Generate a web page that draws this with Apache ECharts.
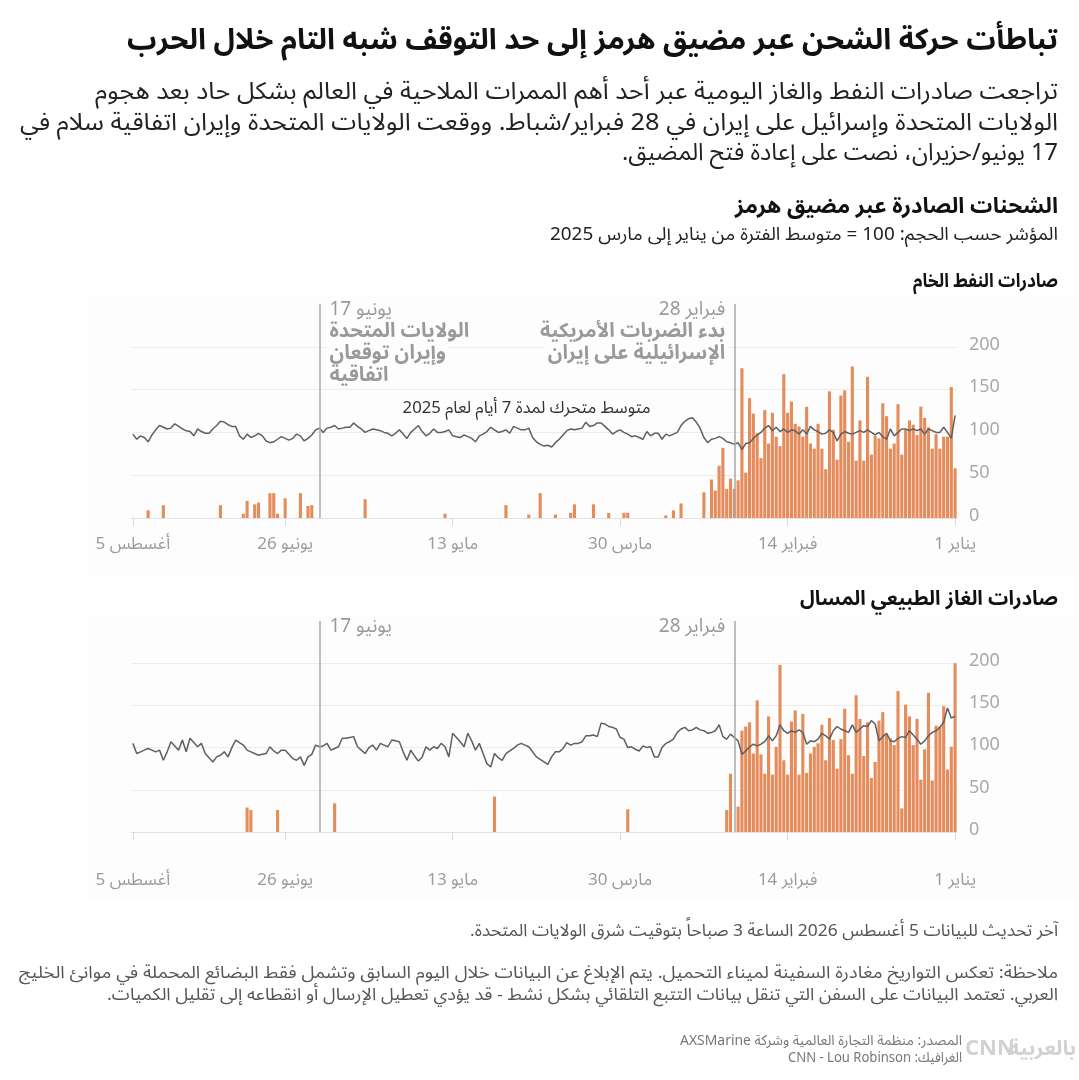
<!DOCTYPE html>
<html><head><meta charset="utf-8">
<script src="https://cdn.jsdelivr.net/npm/echarts@6/dist/echarts.min.js"></script>
<style>html,body{margin:0;padding:0;background:#fff}#c{width:1079px;height:1080px;direction:rtl}</style>
</head><body><div id="c"></div><script>
const FONT = '"Noto Sans Arabic", "Noto Sans", "DejaVu Sans", sans-serif';
const LRE = '\u202A', PDF = '\u202C';
const ltr = s => LRE + s + PDF;

// daily values, index 0 = 1 Jan 2026 ... index 216 = 5 Aug 2026
const oilBars = [
58,153,95,95,81,98,81,106,117,130,
97,109,114,103,74,133,87,81,119,134,
93,96,74,165,67,114,67,177,89,149,
143,68,103,148,57,81,110,81,87,130,
95,107,110,136,123,168,84,95,123,87,
126,70,99,122,140,53,175,44,34,46,
34,82,61,32,45,0,30,0,0,0,
0,0,17,0,9,0,3,0,0,0,
0,0,0,0,0,0,6,6,0,0,
0,6,0,0,0,16,0,0,0,0,
16,6,0,0,0,4,0,0,0,29,
0,0,4,0,0,0,0,0,15,0,
0,0,0,0,0,0,0,0,0,0,
0,0,0,0,5,0,0,0,0,0,
0,0,0,0,0,0,0,0,0,0,
0,0,0,0,0,22,0,0,0,0,
0,0,0,0,0,0,0,0,0,15,
14,0,29,0,0,0,23,0,5,29,
29,0,0,18,16,0,20,5,0,0,
0,0,0,15,0,0,0,0,0,0,
0,0,0,0,0,0,0,0,15,0,
0,0,9,0,0,0,0];
const oilAvg2025 = [
120,93,100,106,100,100,102,104,98,104,
102,104,102,104,104,100,96,104,92,95,
100,97,100,103,100,102,100,98,99,101,
98,90,100,103,99,98,101,103,107,98,
103,98,102,103,100,104,101,106,102,108,
105,100,97,93,88,87,80,88,86,88,
89,93,95,93,92,88,94,105,112,117,
116,113,108,100,98,96,98,92,99,99,
96,101,92,94,96,95,98,100,103,101,
98,103,107,111,111,108,107,112,105,104,
103,104,102,97,92,88,83,85,84,86,
89,94,105,103,103,105,107,99,103,101,
100,103,106,101,98,96,89,93,95,97,
94,95,96,103,101,100,100,104,99,96,
101,108,104,100,93,98,103,99,96,99,
100,102,103,104,102,100,104,107,111,106,
106,105,104,108,106,105,100,105,103,97,
93,90,96,98,93,91,93,95,92,89,
88,90,96,99,96,94,98,92,96,107,
107,109,112,113,108,104,99,99,101,104,
96,101,102,104,107,110,105,104,106,108,
103,97,89,94,96,92,98];
const lngBars = [
200,101,74,149,125,126,61,165,98,62,
134,103,137,151,28,167,103,111,116,142,
132,83,64,130,90,134,162,69,91,146,
110,75,109,135,85,127,105,101,93,70,
140,68,144,131,68,85,198,101,68,137,
69,92,156,93,130,125,120,30,0,69,
26,0,0,0,0,0,0,0,0,0,
0,0,0,0,0,0,0,0,0,0,
0,0,0,0,0,0,27,0,0,0,
0,0,0,0,0,0,0,0,0,0,
0,0,0,0,0,0,0,0,0,0,
0,0,0,0,0,0,0,0,0,0,
0,42,0,0,0,0,0,0,0,0,
0,0,0,0,0,0,0,0,0,0,
0,0,0,0,0,0,0,0,0,0,
0,0,0,0,0,0,0,0,0,0,
0,0,0,34,0,0,0,0,0,0,
0,0,0,0,0,0,0,0,26,0,
0,0,0,0,0,26,29,0,0,0,
0,0,0,0,0,0,0,0,0,0,
0,0,0,0,0,0,0,0,0,0,
0,0,0,0,0,0,0];
const lngAvg2025 = [
137,135,147,130,124,120,118,114,108,104,
110,115,120,112,113,111,107,108,117,113,
108,128,132,125,126,122,118,127,118,120,
122,125,120,110,114,117,110,107,108,104,
118,121,118,120,117,120,127,114,108,114,
107,104,102,104,101,96,92,108,112,116,
110,113,127,120,118,117,120,121,124,121,
120,124,122,118,110,107,105,100,89,89,
101,100,102,96,98,101,100,110,112,122,
124,125,128,129,113,115,114,114,107,105,
105,103,106,99,95,95,89,80,83,86,
89,95,101,103,105,103,99,96,93,85,
88,93,77,81,93,105,97,108,117,101,
107,112,117,89,101,105,99,101,97,101,
89,84,90,97,85,95,107,108,109,101,
103,105,97,103,100,93,97,101,113,112,
111,111,101,99,97,105,102,101,103,92,
89,79,89,85,87,92,97,97,93,96,
101,93,92,91,93,95,97,103,106,109,
100,89,95,91,89,83,88,93,105,101,
106,111,95,109,97,102,107,95,85,97,
95,97,99,97,95,93,105];

const tickIdx = [0, 44, 88, 132, 176, 216];
const tickText = ['1 يناير', '14 فبراير', '30 مارس', '13 مايو', '26 يونيو', '5 أغسطس'];
const yTicks = [0, 50, 100, 150, 200];
const eventDays = ['2026-02-28', '2026-06-17'];
const eventDateText = ['28 فبراير', '17 يونيو'];
const eventNotes = [['بدء الضربات الأمريكية', 'الإسرائيلية على إيران'], ['الولايات المتحدة', 'وإيران توقعان', 'اتفاقية']];

const days = [];
const t0 = Date.UTC(2026, 0, 1);
for (let i = 0; i < oilBars.length; i++) days.push(new Date(t0 + i * 86400000).toISOString().slice(0, 10));

const BAR = '#e58c5c', PANEL = '#fdfdfd', GRIDC = '#ececec';

function xAxisFor(g, margin) {
  return {
    type: 'category', gridIndex: g, data: days, inverse: true, boundaryGap: true,
    axisLine: { show: true, lineStyle: { color: '#e2e2e2', width: 1 } },
    axisTick: { show: true, alignWithLabel: true, length: 8, interval: (i) => tickIdx.includes(i), lineStyle: { color: '#d9d9d9' } },
    axisLabel: {
      interval: (i) => tickIdx.includes(i), margin: margin, color: '#9c9c9c', fontSize: 17, fontFamily: FONT,
      formatter: (v, i) => { const k = tickIdx.indexOf(i); return k >= 0 ? ltr(tickText[k]) : ''; }
    },
    splitLine: { show: false }
  };
}
function yAxisFor(g) {
  return {
    type: 'value', gridIndex: g, position: 'right', min: 0, max: 250, interval: 50,
    axisLine: { show: false }, axisTick: { show: false },
    axisLabel: { margin: 12, color: '#a9a9a9', fontSize: 18, fontFamily: FONT, align: 'left',
      formatter: v => yTicks.includes(v) ? String(v) : '' },
    splitLine: { lineStyle: { color: [GRIDC, GRIDC, GRIDC, GRIDC, GRIDC, 'rgba(0,0,0,0)', 'rgba(0,0,0,0)'], width: 1 } }
  };
}
function seriesFor(g, bars, avg) {
  return [
    { type: 'bar', xAxisIndex: g, yAxisIndex: g, data: bars, barCategoryGap: '18%', silent: true,
      itemStyle: { color: BAR },
      markLine: { symbol: 'none', silent: true, label: { show: false },
        lineStyle: { color: '#a8a8a8', width: 1.5, type: 'solid' },
        data: eventDays.map(d => ({ xAxis: d })) } },
    { type: 'line', xAxisIndex: g, yAxisIndex: g, data: avg, symbol: 'none', silent: true, z: 4,
      lineStyle: { color: '#5f5f5f', width: 1.5 } }
  ];
}

const mctx = document.createElement('canvas').getContext('2d');
function fontStr(size, weight) { return (weight || 'normal') + ' ' + size + 'px ' + FONT; }
// text element; optional fit width (layout) stretches glyphs horizontally around the anchor
function txt(text, x, y, size, opts = {}) {
  const font = fontStr(size, opts.weight);
  let sx = 1;
  if (opts.fit) {
    mctx.font = font;
    const w = mctx.measureText(text).width;
    if (w > 0) sx = Math.max(0.8, Math.min(1.4, opts.fit / w));
  }
  return { type: 'text', x: x, y: y, z: opts.z || 10, silent: true, scaleX: sx,
    style: Object.assign({ text: text, fill: opts.color || '#222', font: font,
      align: opts.align || 'right', verticalAlign: 'middle' }, opts.extra || {}) };
}

const RX = 1058;
const headerGraphics = [
  { type: 'rect', z: -10, silent: true, shape: { x: 88, y: 297, width: 991, height: 280 }, style: { fill: PANEL } },
  { type: 'rect', z: -10, silent: true, shape: { x: 88, y: 615, width: 991, height: 285 }, style: { fill: PANEL } },
  txt('تباطأت حركة الشحن عبر مضيق هرمز إلى حد التوقف شبه التام خلال الحرب', RX, 45, 29, { weight: 'bold', color: '#111', fit: 931 }),
  txt('تراجعت صادرات النفط والغاز اليومية عبر أحد أهم الممرات الملاحية في العالم بشكل حاد بعد هجوم', RX, 95, 24, { color: '#222', fit: 963 }),
  txt('الولايات المتحدة وإسرائيل على إيران في 28 فبراير/شباط. ووقعت الولايات المتحدة وإيران اتفاقية سلام في', RX, 126, 24, { color: '#222', fit: 1038 }),
  txt('17 يونيو/حزيران، نصت على إعادة فتح المضيق.', RX, 156, 24, { color: '#222', fit: 436 }),
  txt('الشحنات الصادرة عبر مضيق هرمز', RX, 210, 22, { weight: 'bold', color: '#111', fit: 323 }),
  txt('المؤشر حسب الحجم: 100 = متوسط الفترة من يناير إلى مارس 2025', RX, 237, 18, { color: '#222', fit: 508 }),
  txt('صادرات النفط الخام', RX, 284, 19, { weight: 'bold', color: '#111', fit: 145 }),
  txt('صادرات الغاز الطبيعي المسال', RX, 602, 20, { weight: 'bold', color: '#111', fit: 258 }),
  txt('آخر تحديث للبيانات 5 أغسطس 2026 الساعة 3 صباحاً بتوقيت شرق الولايات المتحدة.', RX, 933, 17, { color: '#555', fit: 588 }),
  txt('ملاحظة: تعكس التواريخ مغادرة السفينة لميناء التحميل. يتم الإبلاغ عن البيانات خلال اليوم السابق وتشمل فقط البضائع المحملة في موانئ الخليج', RX, 975, 17, { color: '#555', fit: 1039 }),
  txt('العربي. تعتمد البيانات على السفن التي تنقل بيانات التتبع التلقائي بشكل نشط - قد يؤدي تعطيل الإرسال أو انقطاعه إلى تقليل الكميات.', RX, 997, 17, { color: '#555', fit: 951 }),
  txt('المصدر: منظمة التجارة العالمية وشركة AXSMarine', 962, 1043, 14, { color: '#777', fit: 282 }),
  txt('الغرافيك: CNN - Lou Robinson', 962, 1060, 14, { color: '#777', fit: 174 }),
  txt('CNN', 990, 1052, 22, { weight: 'bold', color: '#d2d2d2', align: 'center' }),
  txt('بالعربية', 1076, 1052, 20, { weight: 'bold', color: '#d2d2d2', fit: 68 })
];

const chart = echarts.init(document.getElementById('c'), null, { renderer: 'canvas' });
chart.setOption({
  animation: false,
  backgroundColor: '#ffffff',
  textStyle: { fontFamily: FONT },
  grid: [
    { left: 131, right: 122, top: 304, bottom: 562 },
    { left: 131, right: 122, top: 621, bottom: 248 }
  ],
  xAxis: [xAxisFor(0, 20), xAxisFor(1, 42)],
  yAxis: [yAxisFor(0), yAxisFor(1)],
  series: [].concat(seriesFor(0, oilBars, oilAvg2025), seriesFor(1, lngBars, lngAvg2025)),
  graphic: headerGraphics
});

// annotations anchored to the axes
const ann = [];
const noteStyle = { backgroundColor: PANEL, padding: [0, 3, 0, 3] };
for (let g = 0; g < 2; g++) {
  const top = chart.convertToPixel({ yAxisIndex: g }, 250);
  eventDays.forEach((d, k) => {
    const x = chart.convertToPixel({ xAxisIndex: g }, d);
    const right = k === 0;
    const ax = right ? x - 6 : x + 7;
    const al = right ? 'right' : 'left';
    ann.push(txt(ltr(eventDateText[k]), ax, top + 8, 19, { color: '#9a9a9a', align: al, extra: noteStyle }));
    if (g === 0) {
      eventNotes[k].forEach((line, j) => {
        ann.push(txt(line, ax, top + 30 + 22 * j, 20, { weight: 'bold', color: '#9a9a9a', align: al, extra: noteStyle }));
      });
    }
  });
}
const maX = chart.convertToPixel({ xAxisIndex: 0 }, days[80]);
const maY = chart.convertToPixel({ yAxisIndex: 0 }, 126);
ann.push(txt('متوسط متحرك لمدة 7 أيام لعام 2025', maX, maY, 17, { color: '#333', fit: 248 }));

chart.setOption({ graphic: headerGraphics.concat(ann) });
</script></body></html>
